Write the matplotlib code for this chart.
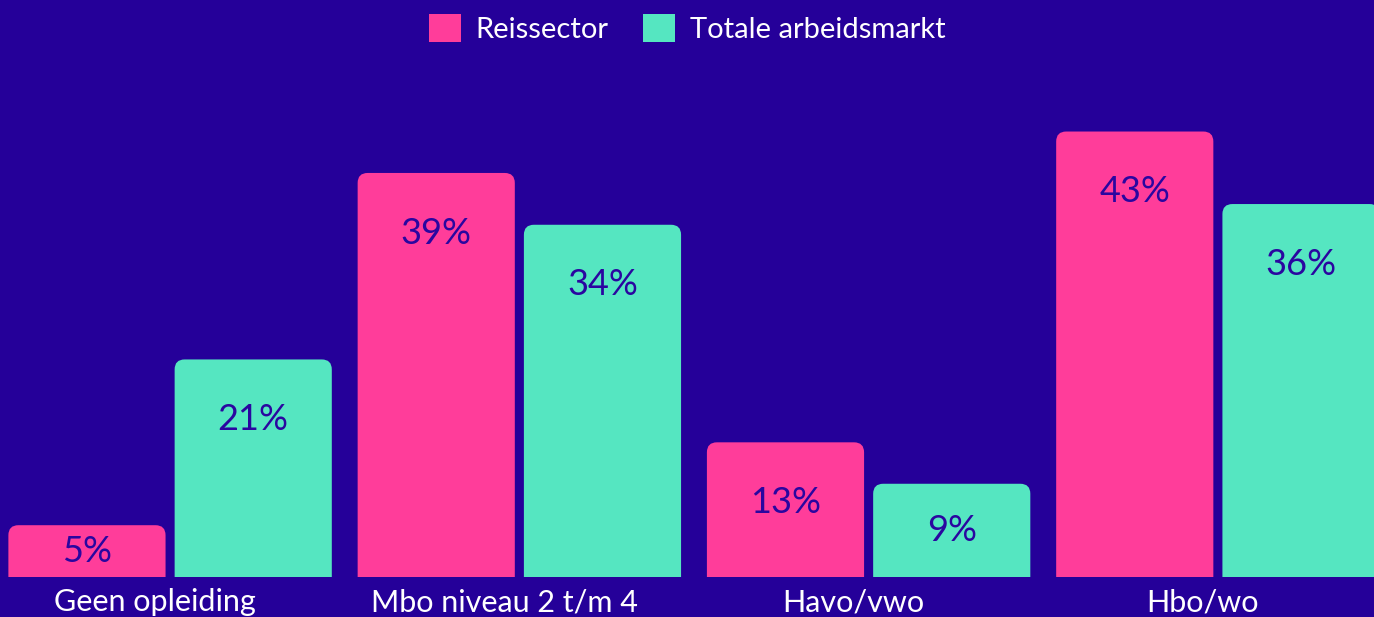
import matplotlib
matplotlib.use('Agg')
import matplotlib.pyplot as plt
import matplotlib.transforms as mtransforms
from matplotlib.patches import FancyBboxPatch, Patch
import numpy as np

categories = ['Geen opleiding', 'Mbo niveau 2 t/m 4', 'Havo/vwo', 'Hbo/wo']
reissector = [5, 39, 13, 43]
totaal = [21, 34, 9, 36]
series_names = ['Reissector', 'Totale arbeidsmarkt']

bg = '#250099'
pink = '#ff3d9a'
teal = '#55e6c1'
label_col = '#2a06a0'

plt.rcParams['font.family'] = ['Lato', 'DejaVu Sans']

fig = plt.figure(figsize=(13.74, 6.17), dpi=100)
fig.patch.set_facecolor(bg)
ax = fig.add_axes([0, 40 / 617, 1, 577 / 617])
ax.set_facecolor(bg)
ax.set_xlim(-0.487, 3.447)
ax.set_ylim(0, 577 / 10.36)
for s in ax.spines.values():
    s.set_visible(False)
ax.set_yticks([])

x = np.arange(len(categories))
width = 0.45
gap = 0.026

# rounding: same size in px in both directions
fig.canvas.draw()
px_x = ax.transData.transform((1, 0))[0] - ax.transData.transform((0, 0))[0]
px_y = ax.transData.transform((0, 1))[1] - ax.transData.transform((0, 0))[1]
aspect = px_x / px_y
r = 10 / px_x

for vals, col, off in [(reissector, pink, -1), (totaal, teal, 1)]:
    for xi, v in zip(x, vals):
        left = xi + off * (gap / 2 + width / 2) - width / 2
        box = FancyBboxPatch((left, -3), width, v + 3,
                             boxstyle=f'round,pad=0,rounding_size={r}',
                             mutation_aspect=aspect, facecolor=col,
                             edgecolor='none')
        ax.add_patch(box)
        ty = max(v / 2, v - 5.8)
        ax.text(xi + off * (gap / 2 + width / 2), ty, f'{v}%',
                ha='center', va='center', fontsize=26, color=label_col)

ax.set_xticks(x)
ax.set_xticklabels(categories, fontsize=22, color='white')
ax.tick_params(axis='x', length=0, pad=8)
# labels sit a little left of the group centre in the original
shift = mtransforms.ScaledTranslation(-0.15, 0, fig.dpi_scale_trans)
for lab in ax.get_xticklabels():
    lab.set_transform(lab.get_transform() + shift)

handles = [Patch(facecolor=pink), Patch(facecolor=teal)]
fig.legend(handles, series_names, loc='upper center', ncol=2,
           bbox_to_anchor=(0.5, 1.01), frameon=False, fontsize=21,
           labelcolor='white', handlelength=1.1, handleheight=1.1,
           handletextpad=0.5, columnspacing=1.2, borderaxespad=0.3)

fig.savefig('out.png', dpi=100, facecolor=bg)
